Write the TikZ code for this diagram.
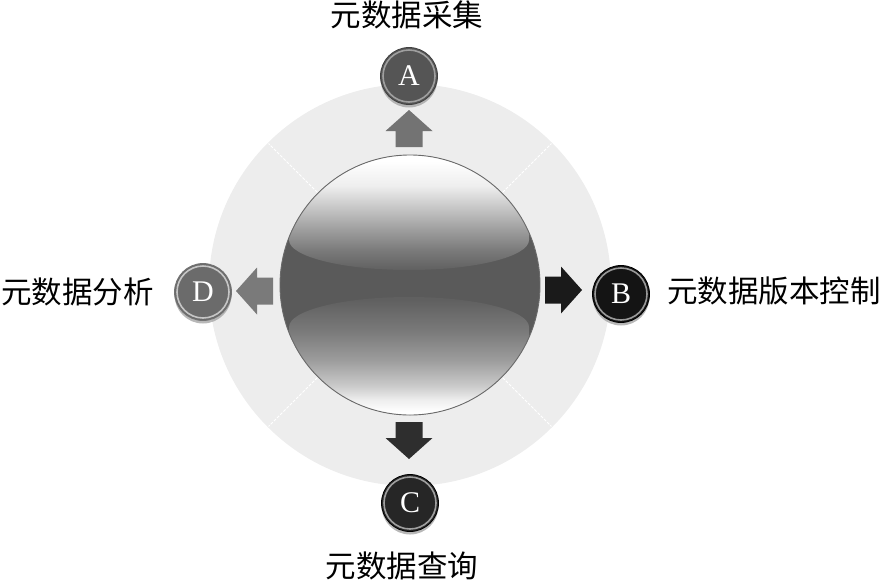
\documentclass[tikz,border=0pt]{standalone}
\usepackage{fontspec}
\newfontfamily\cjk{Noto Sans CJK SC}
\newfontfamily\lat{Liberation Serif}
\usetikzlibrary{shadows}
\definecolor{ringc}{HTML}{EDEDED}
\definecolor{sphdark}{HTML}{5A5A5A}
\definecolor{g66}{HTML}{606060}
\definecolor{g77}{HTML}{7A7A7A}
\definecolor{g99}{HTML}{9C9C9C}
\definecolor{gc8}{HTML}{CACACA}
\definecolor{gee}{HTML}{EEEEEE}
\definecolor{rimc}{HTML}{6A6A6A}
\definecolor{btnA}{HTML}{555555}
\definecolor{btnB}{HTML}{141414}
\definecolor{btnC}{HTML}{262626}
\definecolor{btnD}{HTML}{6B6B6B}
\definecolor{arrA}{HTML}{737373}
\definecolor{arrB}{HTML}{1A1A1A}
\definecolor{arrC}{HTML}{2E2E2E}
\definecolor{arrD}{HTML}{7A7A7A}
\pgfdeclareverticalshading{tophl}{100bp}{color(0bp)=(g66); color(25bp)=(g66); color(32bp)=(g77); color(39bp)=(g99); color(48bp)=(gc8); color(55bp)=(gee); color(64bp)=(white); color(100bp)=(white)}
\pgfdeclareverticalshading{bothl}{100bp}{color(0bp)=(white); color(35bp)=(white); color(39bp)=(gee); color(44bp)=(gc8); color(53bp)=(g99); color(63bp)=(g77); color(74bp)=(g66); color(100bp)=(g66)}
\tikzset{
  blockarrow/.pic={\fill[pic actions] (0,-13.5) -- (16,-13.5) -- (16,-23.5) -- (37,0) -- (16,23.5) -- (16,13.5) -- (0,13.5) -- cycle;},
  btn/.style={circle, minimum size=57, inner sep=0, text=white, font=\lat\fontsize{30}{30}\selectfont,
    drop shadow={shadow xshift=0pt, shadow yshift=-3pt, fill=black!35, opacity=0.8}},
  lbl/.style={font=\cjk\fontsize{30.5}{30.5}\selectfont, inner sep=0},
  rimline/.style={line width=1.6pt}
}
\begin{document}
\begin{tikzpicture}[x=1pt,y=-1pt]
\useasboundingbox (0,0) rectangle (885,582);
\coordinate (O) at (410,285);
% ring
\fill[ringc] (O) circle[radius=201];
\foreach \a in {45,135,225,315}
  \draw[white, line width=1pt, dash pattern=on 3pt off 1.5pt] ([shift={(\a:131)}]O) -- ([shift={(\a:200)}]O);
% sphere
\node[circle, minimum size=260, inner sep=0] (S) at (O) {};
\begin{scope}
  \clip (O) circle[radius=130];
  \fill[sphdark] (O) circle[radius=130];
  \shade[shading=tophl] (289,130) -- (289,240) arc[start angle=180, end angle=0, x radius=120, y radius=30] -- (529,130) -- cycle;
  \shade[shading=bothl] (289,440) -- (289,327) arc[start angle=180, end angle=360, x radius=120, y radius=30] -- (529,440) -- cycle;
\end{scope}
\draw[rimc, line width=0.9pt] (O) circle[radius=130];
% arrows
\coordinate (tA) at (409,147);
\coordinate (tB) at (545,290);
\coordinate (tC) at (409,422);
\coordinate (tD) at (273,291);
\pic[fill=arrA, rotate=90] at (tA) {blockarrow};
\pic[fill=arrB] at (tB) {blockarrow};
\pic[fill=arrC, rotate=-90] at (tC) {blockarrow};
\pic[fill=arrD, rotate=180] at (tD) {blockarrow};
% buttons
\node[btn, fill=btnA, draw=black!75, line width=0.8pt] (A) at (409,76) {A};
\draw[rimline, draw=gray!75] (A.center) circle[radius=26];
\node[btn, fill=btnB, draw=black, line width=0.8pt] (B) at (621,294) {B};
\draw[rimline, draw=gray!80] (B.center) circle[radius=26];
\node[btn, fill=btnC, draw=black, line width=0.8pt] (C) at (410,503) {C};
\draw[rimline, draw=gray!75] (C.center) circle[radius=26];
\node[btn, fill=btnD, draw=black!55, line width=0.8pt] (D) at (203,292) {D};
\draw[rimline, draw=gray!45] (D.center) circle[radius=26];
% labels
\node[lbl] (LA) at (407,15) {元数据采集};
\node[lbl, anchor=west] (LB) at (667,291) {元数据版本控制};
\node[lbl] (LC) at (402,566) {元数据查询};
\node[lbl, anchor=west] (LD) at (1,292) {元数据分析};
\end{tikzpicture}
\end{document}
